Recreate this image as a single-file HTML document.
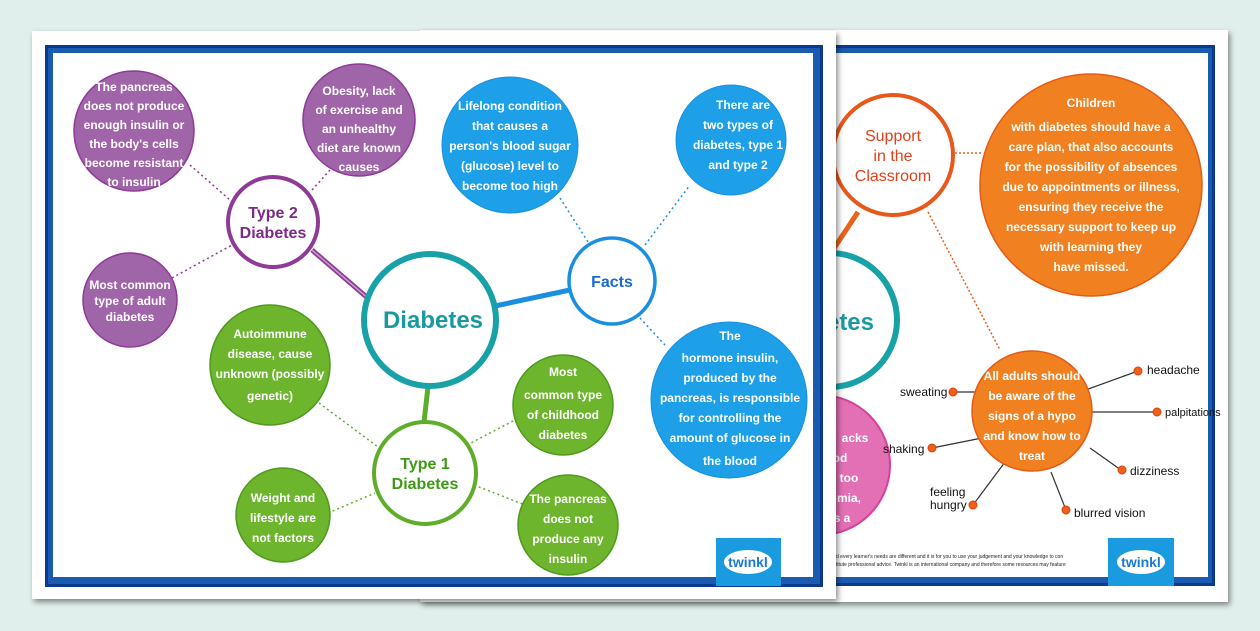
<!DOCTYPE html>
<html><head><meta charset="utf-8"><style>
html,body{margin:0;padding:0;background:#e1efec;}
svg{display:block;}
text{font-family:"Liberation Sans",sans-serif;font-weight:bold;text-anchor:middle;}
.w{fill:#fff;font-size:12px;}
.s{fill:#111;font-weight:normal;font-size:12px;text-anchor:start;}
</style></head><body>
<svg width="1260" height="631" viewBox="0 0 1260 631" xmlns="http://www.w3.org/2000/svg">
<defs>
<filter id="sh" x="-5%" y="-5%" width="110%" height="115%"><feDropShadow dx="2" dy="3" stdDeviation="3" flood-color="#000" flood-opacity="0.45"/></filter>
<clipPath id="bk"><rect x="836" y="53" width="372" height="524"/></clipPath>
</defs>
<rect width="1260" height="631" fill="#e1efec"/>
<!-- back page -->
<rect x="420" y="30" width="808" height="572" fill="#fff" filter="url(#sh)"/>
<rect x="700" y="45" width="515" height="541" fill="#0b3a8c"/>
<rect x="700" y="48" width="512" height="535" fill="#1a5ab0"/>
<rect x="700" y="53" width="508" height="524" fill="#fff"/>
<g clip-path="url(#bk)">
<line x1="858" y1="212" x2="825" y2="262" stroke="#e8621a" stroke-width="5"/>
<circle cx="830" cy="320" r="67" fill="#fff" stroke="#18a2a8" stroke-width="6"/>
<text x="850" y="330" fill="#1a9aa0" style="font-size:24px">etes</text>
<circle cx="820" cy="465" r="70" fill="#e36fb4" stroke="#d8409a" stroke-width="2"/>
<text class="w" x="855" y="442">acks</text>
<text class="w" x="840" y="462">od</text>
<text class="w" x="849" y="482">too</text>
<text class="w" x="847" y="502">-mia,</text>
<text class="w" x="842" y="522">s a</text>
<line x1="955" y1="153" x2="982" y2="153" stroke="#e8621a" stroke-width="1.5" stroke-dasharray="2 2"/>
<line x1="928" y1="212" x2="1000" y2="350" stroke="#e8621a" stroke-width="1.5" stroke-dasharray="2 2"/>
<circle cx="893" cy="155" r="60" fill="#fff" stroke="#e8581a" stroke-width="4"/>
<text x="893" y="141" fill="#e0401a" style="font-size:16px;font-weight:normal">Support</text>
<text x="893" y="161" fill="#e0401a" style="font-size:16px;font-weight:normal">in the</text>
<text x="893" y="181" fill="#e0401a" style="font-size:16px;font-weight:normal">Classroom</text>
<circle cx="1091" cy="185" r="111" fill="#f08020" stroke="#e55a18" stroke-width="1.5"/>
<text class="w" x="1091" y="107">Children</text>
<text class="w" x="1091" y="131">with diabetes should have a</text>
<text class="w" x="1091" y="151">care plan, that also accounts</text>
<text class="w" x="1091" y="171">for the possibility of absences</text>
<text class="w" x="1091" y="191">due to appointments or illness,</text>
<text class="w" x="1091" y="211">ensuring they receive the</text>
<text class="w" x="1091" y="231">necessary support to keep up</text>
<text class="w" x="1091" y="251">with learning they</text>
<text class="w" x="1091" y="271">have missed.</text>
<g stroke="#333" stroke-width="1.2">
<line x1="954" y1="392" x2="980" y2="392"/><line x1="1080" y1="392" x2="1138" y2="371"/>
<line x1="1090" y1="412" x2="1157" y2="412"/><line x1="932" y1="448" x2="982" y2="438"/>
<line x1="1090" y1="448" x2="1121" y2="470"/><line x1="973" y1="505" x2="1005" y2="462"/>
<line x1="1051" y1="472" x2="1066" y2="510"/></g>
<circle cx="1032" cy="411" r="60" fill="#f08020" stroke="#e55a18" stroke-width="1.5"/>
<text class="w" x="1032" y="380">All adults should</text>
<text class="w" x="1032" y="400">be aware of the</text>
<text class="w" x="1032" y="420">signs of a hypo</text>
<text class="w" x="1032" y="440">and know how to</text>
<text class="w" x="1032" y="460">treat</text>
<g fill="#f06018" stroke="#d84010" stroke-width="1">
<circle cx="953" cy="392" r="4"/><circle cx="1138" cy="371" r="4"/><circle cx="1157" cy="412" r="4"/>
<circle cx="932" cy="448" r="4"/><circle cx="1122" cy="470" r="4"/><circle cx="973" cy="505" r="4"/><circle cx="1066" cy="510" r="4"/></g>
<text class="s" x="900" y="396">sweating</text>
<text class="s" x="1147" y="374">headache</text>
<text class="s" x="883" y="453">shaking</text>
<text class="s" x="1130" y="475">dizziness</text>
<text class="s" x="930" y="496">feeling</text>
<text class="s" x="930" y="509">hungry</text>
<text class="s" x="1074" y="517">blurred vision</text>
<text x="836" y="558" fill="#222" style="font-size:5px;font-weight:normal;text-anchor:start">d every learner's needs are different and it is for you to use your judgement and your knowledge to con</text>
<text x="836" y="566" fill="#222" style="font-size:5px;font-weight:normal;text-anchor:start">titute professional advice. Twinkl is an international company and therefore some resources may feature</text>
</g>
<text class="s" x="1165" y="416" style="font-size:11px">palpitations</text>
<rect x="1108" y="538" width="66" height="48" fill="#1a9be0"/>
<ellipse cx="1141" cy="562" rx="24" ry="12" fill="#fff"/>
<text x="1141" y="567" fill="#1a7ad0" style="font-size:14px">twinkl</text>
<!-- front page -->
<rect x="32" y="31" width="804" height="568" fill="#fff" filter="url(#sh)"/>
<rect x="45" y="45" width="778" height="542" fill="#0b3a8c"/>
<rect x="48" y="48" width="772" height="536" fill="#1a5ab0"/>
<rect x="53" y="53" width="760" height="524" fill="#fff"/>
<g stroke-width="1.5" stroke-dasharray="2 3" fill="none">
<line x1="190" y1="165" x2="230" y2="200" stroke="#8e3a96"/>
<line x1="312" y1="190" x2="330" y2="170" stroke="#8e3a96"/>
<line x1="172" y1="278" x2="232" y2="245" stroke="#8e3a96"/>
<line x1="560" y1="198" x2="590" y2="245" stroke="#1a8fe0"/>
<line x1="645" y1="245" x2="690" y2="185" stroke="#1a8fe0"/>
<line x1="640" y1="318" x2="665" y2="345" stroke="#1a8fe0"/>
<line x1="315" y1="400" x2="382" y2="450" stroke="#5fae2a"/>
<line x1="467" y1="445" x2="515" y2="420" stroke="#5fae2a"/>
<line x1="328" y1="513" x2="375" y2="493" stroke="#5fae2a"/>
<line x1="474" y1="485" x2="525" y2="505" stroke="#5fae2a"/>
</g>
<line x1="312" y1="250" x2="370" y2="300" stroke="#8e3a96" stroke-width="5"/>
<line x1="312" y1="250" x2="370" y2="300" stroke="#c79bcb" stroke-width="1.5"/>
<line x1="495" y1="306" x2="570" y2="290" stroke="#1a8fe0" stroke-width="5"/>
<line x1="428" y1="387" x2="424" y2="422" stroke="#5fae2a" stroke-width="5"/>
<g fill="#a065a8" stroke="#8e3a96" stroke-width="1.5">
<circle cx="134" cy="131" r="60"/><circle cx="359" cy="120" r="56"/><circle cx="130" cy="300" r="47"/></g>
<text class="w" x="134" y="91">The pancreas</text>
<text class="w" x="134" y="110">does not produce</text>
<text class="w" x="134" y="129">enough insulin or</text>
<text class="w" x="134" y="148">the body's cells</text>
<text class="w" x="134" y="167">become resistant</text>
<text class="w" x="134" y="186">to insulin</text>
<text class="w" x="359" y="95">Obesity, lack</text>
<text class="w" x="359" y="114">of exercise and</text>
<text class="w" x="359" y="133">an unhealthy</text>
<text class="w" x="359" y="152">diet are known</text>
<text class="w" x="359" y="171">causes</text>
<text class="w" x="130" y="289">Most common</text>
<text class="w" x="130" y="305">type of adult</text>
<text class="w" x="130" y="321">diabetes</text>
<circle cx="273" cy="222" r="45" fill="#fff" stroke="#8e3a96" stroke-width="4"/>
<text x="273" y="218" fill="#7b2a86" style="font-size:16px">Type 2</text>
<text x="273" y="238" fill="#7b2a86" style="font-size:16px">Diabetes</text>
<g fill="#1da0e8" stroke="#1a8fe0" stroke-width="1">
<circle cx="510" cy="145" r="68"/><circle cx="731" cy="140" r="55"/><circle cx="729" cy="400" r="78"/></g>
<text class="w" x="510" y="110">Lifelong condition</text>
<text class="w" x="510" y="130">that causes a</text>
<text class="w" x="510" y="150">person's blood sugar</text>
<text class="w" x="510" y="170">(glucose) level to</text>
<text class="w" x="510" y="190">become too high</text>
<text class="w" x="743" y="109">There are</text>
<text class="w" x="738" y="129">two types of</text>
<text class="w" x="738" y="149">diabetes, type 1</text>
<text class="w" x="738" y="169">and type 2</text>
<text class="w" x="730" y="340">The</text>
<text class="w" x="730" y="362">hormone insulin,</text>
<text class="w" x="730" y="382">produced by the</text>
<text class="w" x="730" y="402">pancreas, is responsible</text>
<text class="w" x="730" y="422">for controlling the</text>
<text class="w" x="730" y="442">amount of glucose in</text>
<text class="w" x="730" y="465">the blood</text>
<circle cx="612" cy="281" r="43" fill="#fff" stroke="#1a8fe0" stroke-width="3.5"/>
<text x="612" y="287" fill="#1a6ad0" style="font-size:16px">Facts</text>
<g fill="#6cb52d" stroke="#4f9a1e" stroke-width="1.5">
<circle cx="270" cy="365" r="60"/><circle cx="563" cy="405" r="50"/><circle cx="283" cy="515" r="47"/><circle cx="568" cy="525" r="50"/></g>
<text class="w" x="270" y="338">Autoimmune</text>
<text class="w" x="270" y="358">disease, cause</text>
<text class="w" x="270" y="378">unknown (possibly</text>
<text class="w" x="270" y="400">genetic)</text>
<text class="w" x="563" y="376">Most</text>
<text class="w" x="563" y="399">common type</text>
<text class="w" x="563" y="419">of childhood</text>
<text class="w" x="563" y="439">diabetes</text>
<text class="w" x="283" y="502">Weight and</text>
<text class="w" x="283" y="522">lifestyle are</text>
<text class="w" x="283" y="542">not factors</text>
<text class="w" x="568" y="503">The pancreas</text>
<text class="w" x="568" y="523">does not</text>
<text class="w" x="568" y="543">produce any</text>
<text class="w" x="568" y="563">insulin</text>
<circle cx="425" cy="473" r="51" fill="#fff" stroke="#5fae2a" stroke-width="4"/>
<text x="425" y="469" fill="#3e9a14" style="font-size:16px">Type 1</text>
<text x="425" y="489" fill="#3e9a14" style="font-size:16px">Diabetes</text>
<circle cx="430" cy="320" r="66" fill="#fff" stroke="#18a2a8" stroke-width="6"/>
<text x="433" y="328" fill="#1a9aa0" style="font-size:24px">Diabetes</text>
<rect x="716" y="538" width="65" height="48" fill="#1a9be0"/>
<ellipse cx="748" cy="562" rx="24" ry="12" fill="#fff"/>
<text x="748" y="567" fill="#1a7ad0" style="font-size:14px">twinkl</text>
</svg>
</body></html>
